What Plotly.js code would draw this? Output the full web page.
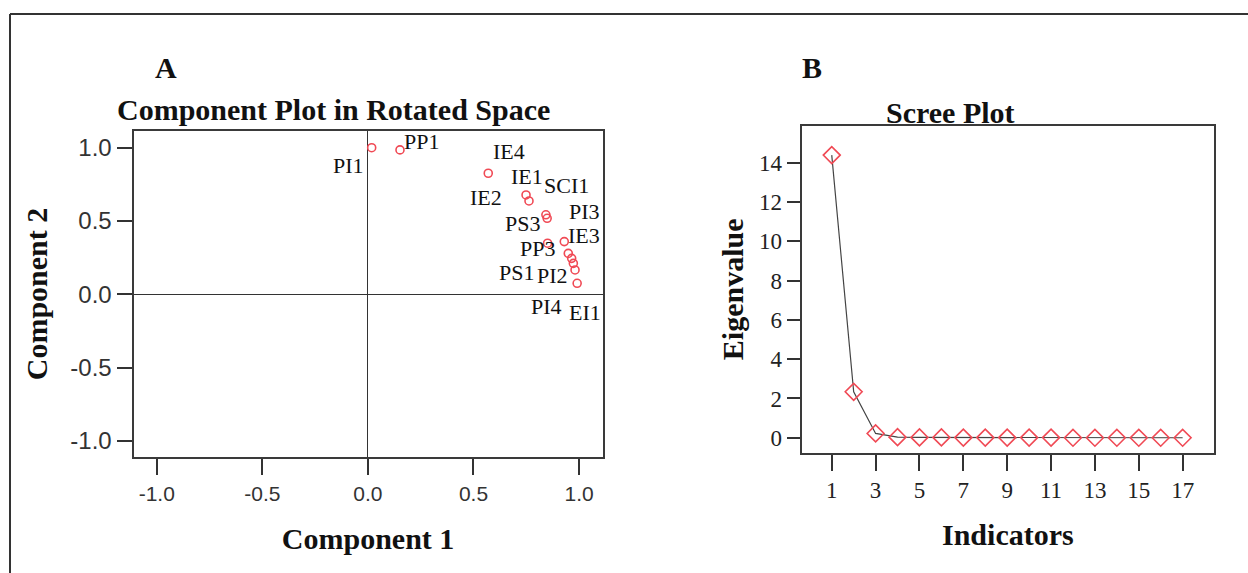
<!DOCTYPE html>
<html>
<head>
<meta charset="utf-8">
<script src="https://cdn.plot.ly/plotly-3.0.1.min.js"></script>
<style>
html,body{margin:0;padding:0;background:#fff;}
#chart{width:1248px;height:573px;}
</style>
</head>
<body>
<div id="chart"></div>
<script>
// ---- Panel A data: rotated component loadings ----
const loadingNames = ['PI1','PP1','IE4','IE1','IE2','SCI1','PS3','PP3','PI3','IE3','PS1','PI2','PI4','EI1'];
const component1   = [0.018,0.152,0.570,0.749,0.763,0.843,0.849,0.851,0.930,0.949,0.965,0.973,0.981,0.991];
const component2   = [0.999,0.984,0.825,0.677,0.636,0.542,0.518,0.348,0.359,0.279,0.245,0.211,0.166,0.075];
const loadingTicks = [-1.0,-0.5,0.0,0.5,1.0];
const loadingTickText = ['-1.0','-0.5','0.0','0.5','1.0'];

// ---- Panel B data: scree plot ----
const indicators  = [1,2,3,4,5,6,7,8,9,10,11,12,13,14,15,16,17];
const eigenvalues = [14.39,2.34,0.22,0.03,0.02,0.02,0.01,0.01,0.01,0.01,0.01,0.00,0.00,0.00,0.00,0.00,0.00];
const screeXTicks = [1,3,5,7,9,11,13,15,17];
const screeYTicks = [0,2,4,6,8,10,12,14];

// ---- label offsets (style only, pixels: [right, up]) ----
const labelShift = [[-23,-18],[22,8],[21,22],[1,18],[-43,3],[21,29],[-25,-5],[-10,-5],[20,30],[16,18],[-55,-14],[-21,-12],[-29,-37],[8,-29]];

const W = 1248, H = 573;
const px = v => v / W;
const py = v => 1 - v / H;

const serif = 'Liberation Serif, Times New Roman, serif';
const titleFont = {family:serif, size:30, weight:'bold', color:'#111'};
const axisLine = {showline:true, mirror:true, linecolor:'#3a3a3a', linewidth:2, showgrid:false};

const traces = [
  {
    type:'scatter', mode:'markers', x:component1, y:component2, text:loadingNames,
    xaxis:'x', yaxis:'y', hoverinfo:'text',
    marker:{symbol:'circle-open', size:8, color:'#f04a55', line:{width:1.6}}
  },
  {
    type:'scatter', mode:'lines+markers', x:indicators, y:eigenvalues,
    xaxis:'x2', yaxis:'y2',
    line:{color:'#444', width:1.2},
    marker:{symbol:'diamond-open', size:13, color:'#f04a55', line:{width:1.6}}
  }
];

const annotations = loadingNames.map((n,i) => ({
  text:n, x:component1[i], y:component2[i], xref:'x', yref:'y', showarrow:false,
  xanchor:'center', yanchor:'middle',
  xshift:labelShift[i][0], yshift:labelShift[i][1],
  font:{family:serif, size:22, color:'#111'}
}));
const paperText = (text, x, y) => ({text:text, x:px(x), y:py(y), xref:'paper', yref:'paper',
  xanchor:'center', yanchor:'middle', showarrow:false, font:titleFont});
annotations.push(
  paperText('A', 166, 67),
  paperText('Component Plot in Rotated Space', 333, 110),
  paperText('B', 812, 67),
  paperText('Scree Plot', 950, 112)
);

const layout = {
  width:W, height:H,
  margin:{l:0, r:0, t:0, b:0},
  paper_bgcolor:'#fff', plot_bgcolor:'#fff',
  showlegend:false,
  xaxis:Object.assign({}, axisLine, {
    domain:[px(133.5), px(602.7)], range:[-1.11, 1.112], anchor:'y',
    zeroline:true, zerolinecolor:'#333', zerolinewidth:1,
    tickmode:'array', tickvals:loadingTicks, ticktext:loadingTickText,
    ticks:'outside', ticklen:16, tickwidth:2, tickcolor:'#333',
    tickfont:{family:'Liberation Sans, Arial, sans-serif', size:21, color:'#333'},
    title:{text:'Component 1', font:titleFont, standoff:24}, automargin:false
  }),
  yaxis:Object.assign({}, axisLine, {
    domain:[py(457.3), py(130.7)], range:[-1.111, 1.115], anchor:'x',
    zeroline:true, zerolinecolor:'#333', zerolinewidth:1,
    tickmode:'array', tickvals:loadingTicks, ticktext:loadingTickText,
    ticks:'outside', ticklen:15, tickwidth:2, tickcolor:'#333',
    tickfont:{family:'Liberation Sans, Arial, sans-serif', size:24, color:'#333'},
    title:{text:'Component 2', font:titleFont, standoff:14}, automargin:false
  }),
  xaxis2:Object.assign({}, axisLine, {
    domain:[px(801.7), px(1214)], range:[-0.37, 18.43], anchor:'y2',
    zeroline:false,
    tickmode:'array', tickvals:screeXTicks,
    ticks:'outside', ticklen:16, tickwidth:2, tickcolor:'#333',
    tickfont:{family:serif, size:23, color:'#222'},
    title:{text:'Indicators', font:titleFont, standoff:22}, automargin:false
  }),
  yaxis2:Object.assign({}, axisLine, {
    domain:[py(452.7), py(126)], range:[-0.76, 15.87], anchor:'x2',
    zeroline:false,
    tickmode:'array', tickvals:screeYTicks,
    ticks:'outside', ticklen:13, tickwidth:2, tickcolor:'#333',
    tickfont:{family:serif, size:23, color:'#222'},
    title:{text:'Eigenvalue', font:titleFont, standoff:7}, automargin:false
  }),
  annotations:annotations,
  shapes:[
    {type:'line', xref:'paper', yref:'paper', x0:px(10), x1:1, y0:py(14), y1:py(14), line:{color:'#333', width:2}},
    {type:'line', xref:'paper', yref:'paper', x0:px(10), x1:px(10), y0:0, y1:py(14), line:{color:'#333', width:2}}
  ]
};

Plotly.newPlot('chart', traces, layout, {displayModeBar:false, staticPlot:true});
</script>
</body>
</html>
